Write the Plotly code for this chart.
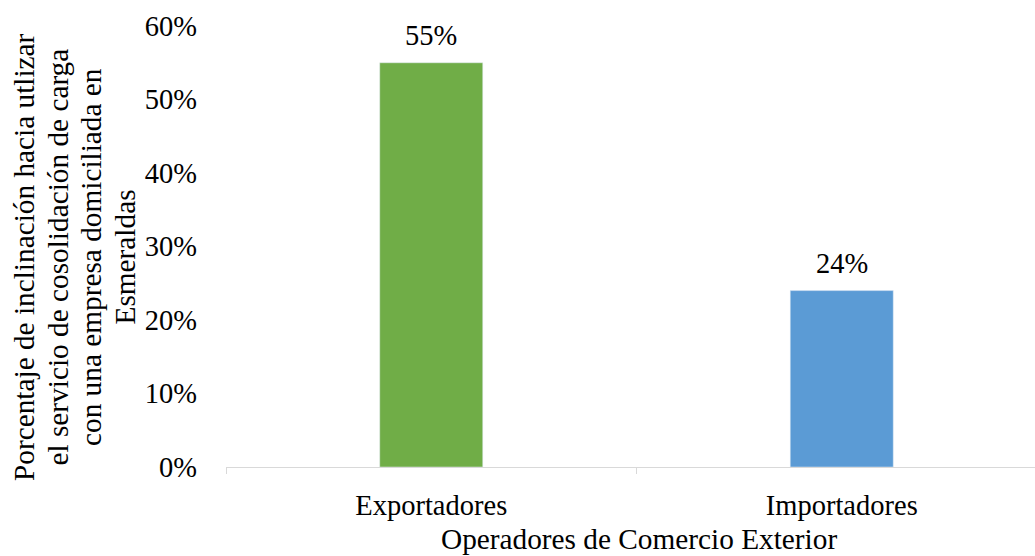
import plotly.graph_objects as go

categories = ["Exportadores", "Importadores"]
values = [0.55, 0.24]
colors = ["#70AD47", "#5B9BD5"]
y_title_lines = [
    "Porcentaje de inclinación hacia utlizar",
    "el servicio de cosolidación de carga",
    "con una empresa domiciliada en",
    "Esmeraldas",
]
x_title = "Operadores de Comercio Exterior"

FONT = "Liberation Serif, Times New Roman, serif"
FS = 28.5
FT = 29.3
W, H = 1035, 556
L, R, T, B = 226, 0, 26, 89
pw, ph = W - L - R, H - T - B

fig = go.Figure(go.Bar(
    x=categories, y=values, marker_color=colors,
    cliponaxis=False, width=0.251,
))

annotations = []
for c, v in zip(categories, values):
    annotations.append(dict(text=f"{v:.0%}", x=c, y=v, xref="x", yref="y",
                            xanchor="center", yanchor="middle", yshift=27,
                            showarrow=False, font=dict(family=FONT, size=FS, color="black")))

line_x = [24, 57.5, 91, 124.5]
for px, txt in zip(line_x, y_title_lines):
    annotations.append(dict(text=txt, xref="paper", yref="paper", x=(px - L) / pw,
                            y=(H - B - 257) / ph, xanchor="center", yanchor="middle",
                            textangle=-90, showarrow=False,
                            font=dict(family=FONT, size=FT, color="black")))

annotations.append(dict(text=x_title, xref="paper", yref="paper", x=(639 - L) / pw,
                        y=(H - B - 539) / ph, xanchor="center", yanchor="middle",
                        showarrow=False, font=dict(family=FONT, size=FT, color="black")))

fig.update_layout(
    width=W, height=H, margin=dict(l=L, r=R, t=T, b=B),
    paper_bgcolor="white", plot_bgcolor="white",
    font=dict(family=FONT, size=FS, color="black"),
    showlegend=False,
    xaxis=dict(range=[-0.5, 1.4708], showgrid=False, showline=True, linecolor="#D9D9D9",
               linewidth=1, ticks="outside", tickson="boundaries", ticklen=6,
               tickcolor="#D9D9D9", ticklabelstandoff=13, zeroline=False),
    yaxis=dict(range=[0, 0.6], dtick=0.1, tickformat=".0%", showgrid=False,
               showline=False, zeroline=False, ticks="", ticklabelstandoff=28),
    annotations=annotations,
)

fig.write_html("out.html")
